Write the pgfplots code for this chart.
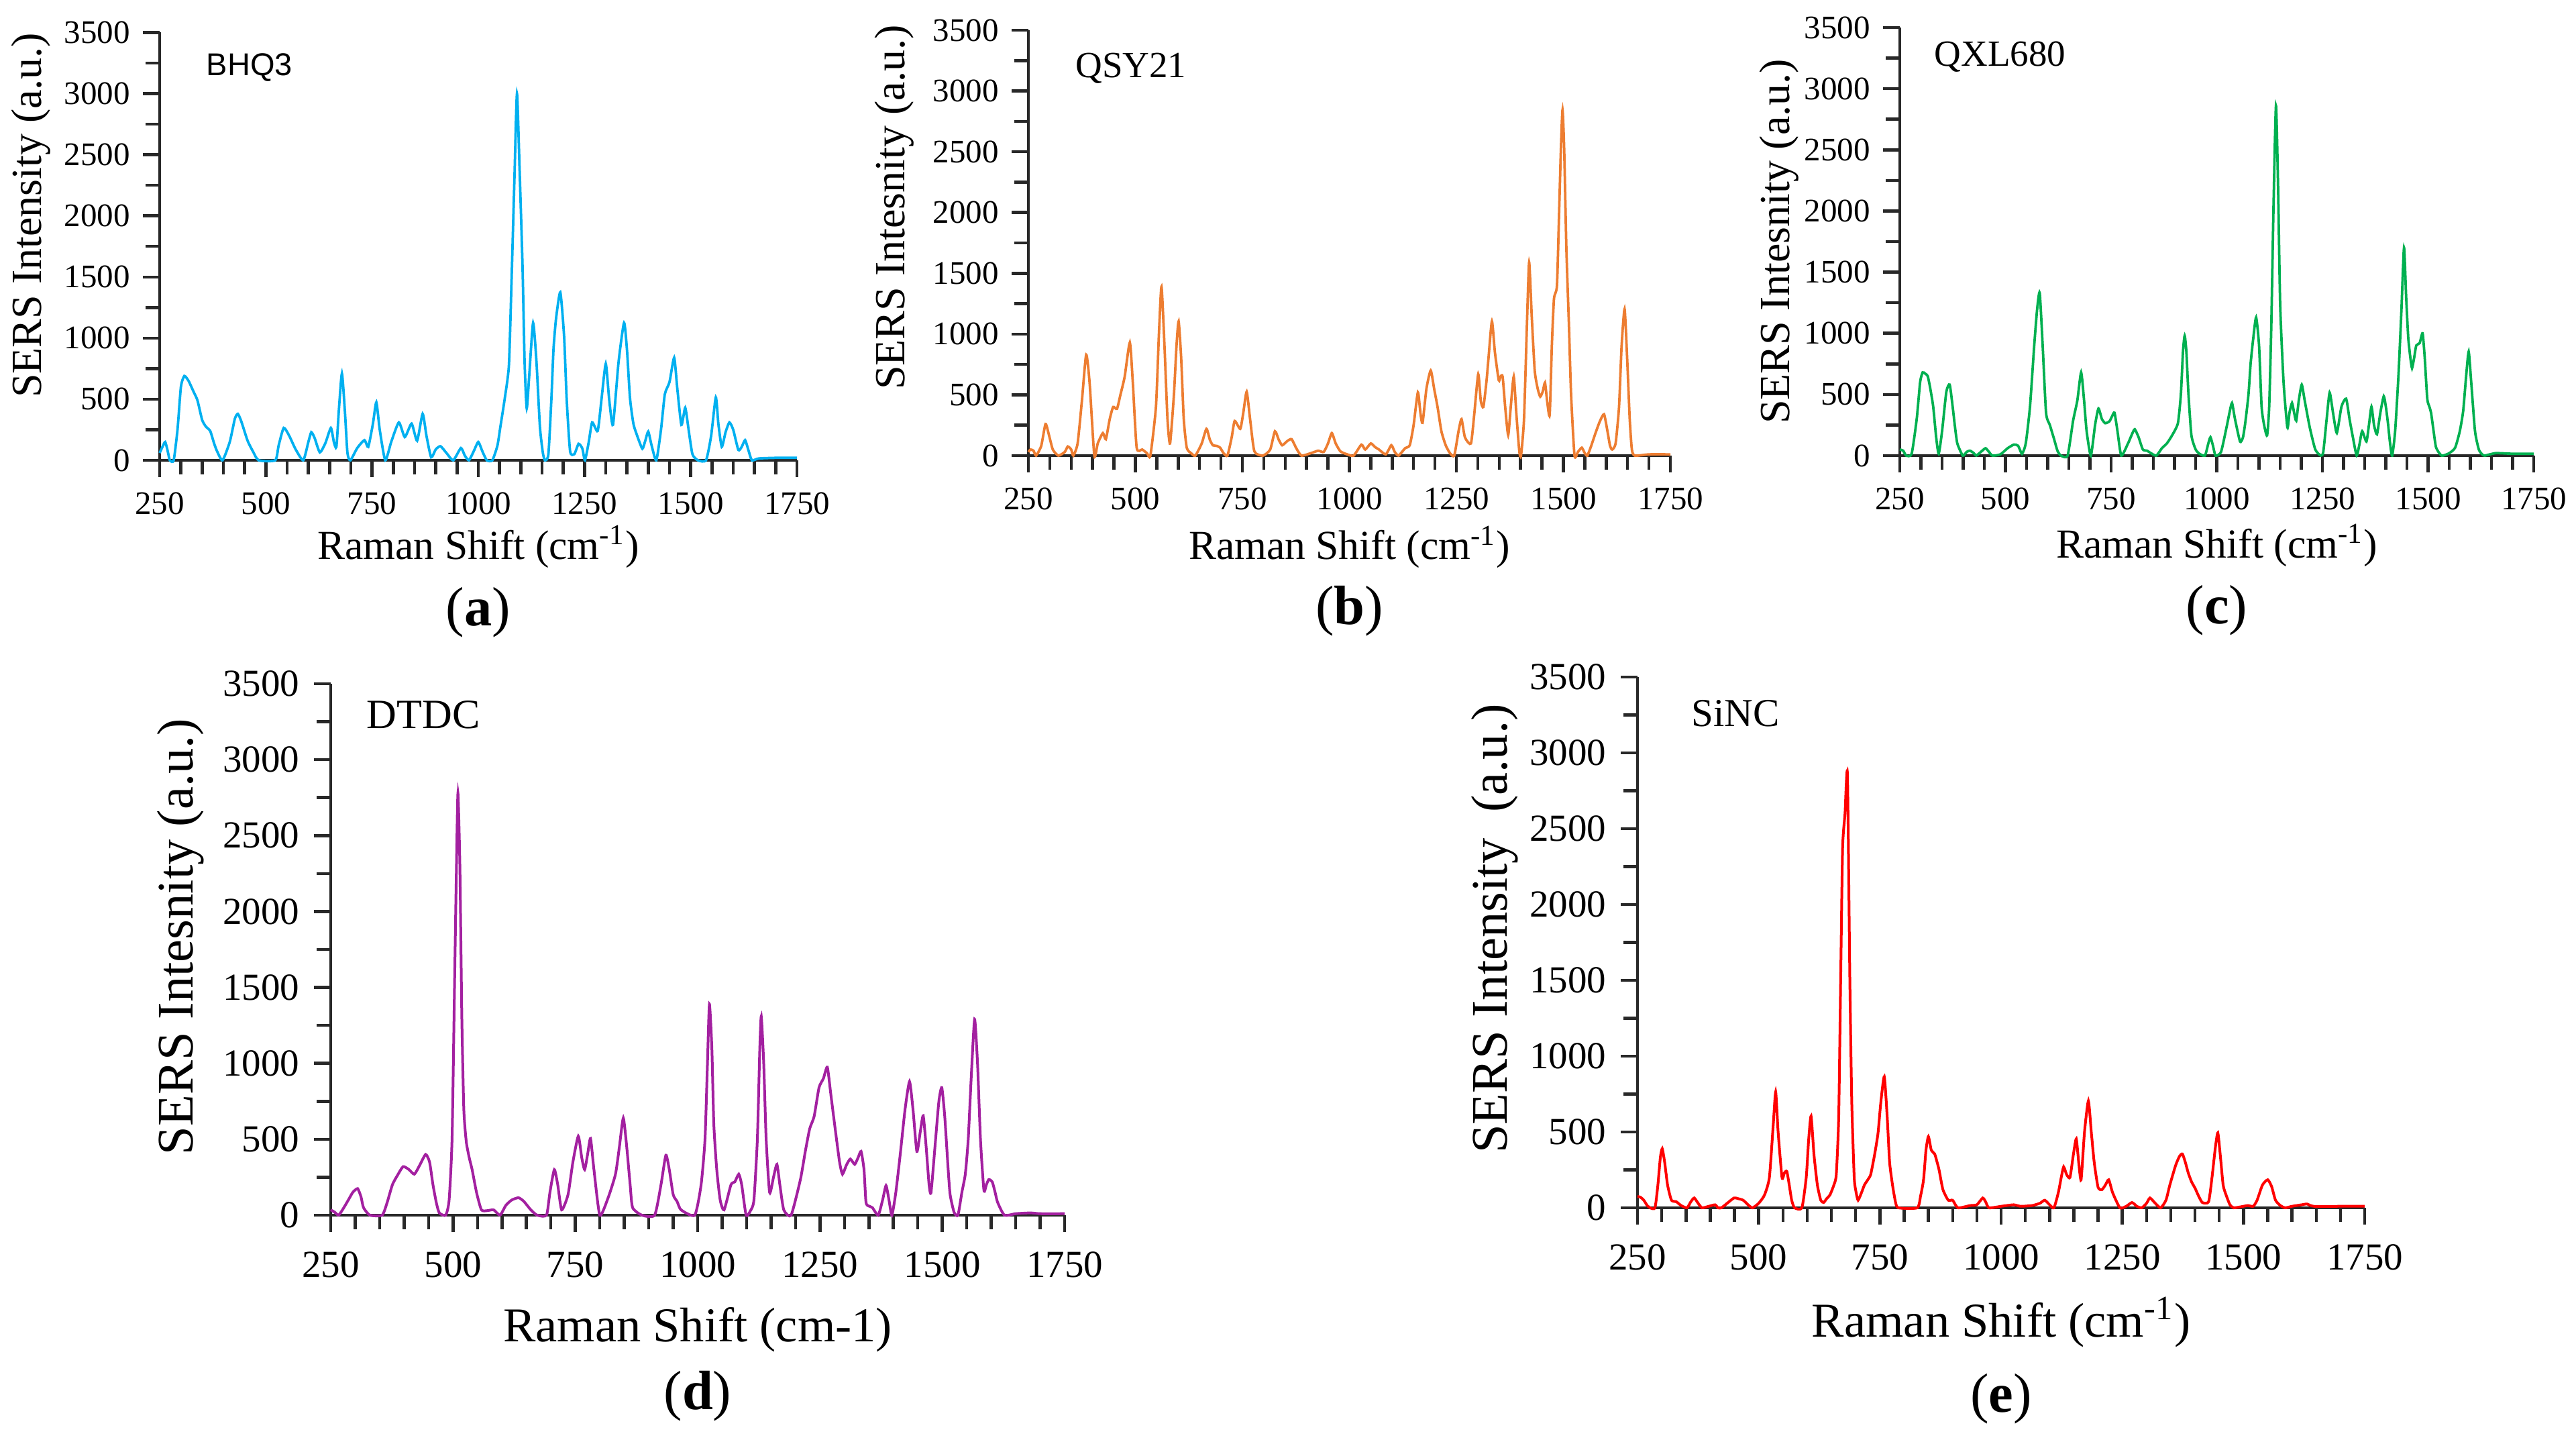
\documentclass[border=0pt]{standalone}
\usepackage{fontspec}
\setmainfont{Liberation Serif}
\newfontfamily\arialfont{Liberation Sans}
\usepackage{pgfplots}
\pgfplotsset{compat=1.18}
\usepackage{pgfplotstable}

\definecolor{cA}{RGB}{0,176,240}
\definecolor{cB}{RGB}{237,125,49}
\definecolor{cC}{RGB}{0,176,80}
\definecolor{cD}{RGB}{163,32,160}
\definecolor{cE}{RGB}{255,0,0}
\definecolor{axgray}{RGB}{40,40,40}

\pgfplotstableread{
x y
250 60
258 120
263 150
268 90
274 0
283 0
292 250
300 600
308 690
318 650
330 560
339 490
350 330
359 275
369 240
378 140
385 75
398 0
415 150
427 340
434 380
442 320
457 160
470 70
483 0
522 0
530 120
542 265
555 200
570 90
588 0
600 150
607 230
615 180
627 65
640 140
653 265
660 150
666 110
672 420
679 710
686 400
692 60
699 0
715 100
732 165
741 110
752 300
760 475
768 250
781 0
795 150
813 310
827 190
843 300
856 160
869 380
878 200
889 25
900 90
911 115
925 60
941 0
959 100
968 40
978 0
990 80
1000 150
1010 70
1020 0
1033 0
1045 120
1052 275
1062 500
1072 775
1078 1440
1085 2300
1091 3000
1097 2400
1104 1600
1109 800
1114 425
1120 700
1129 1125
1137 800
1145 275
1152 60
1157 0
1165 50
1172 500
1177 910
1183 1160
1193 1375
1202 1010
1208 500
1216 75
1226 50
1236 135
1245 95
1251 0
1260 150
1268 310
1281 240
1290 500
1300 790
1308 500
1317 290
1330 800
1343 1125
1350 900
1357 510
1365 300
1373 210
1386 95
1393 160
1400 235
1408 120
1419 0
1430 250
1439 540
1450 640
1461 840
1468 600
1478 290
1487 430
1495 250
1504 50
1517 0
1536 0
1548 200
1559 515
1565 300
1573 110
1582 230
1591 310
1600 250
1612 85
1620 110
1628 165
1636 80
1644 0
1660 15
1700 20
1750 20
}\dataA

\pgfplotstableread{
x y
250 30
255 50
262 40
268 0
280 80
290 260
298 170
307 50
320 0
335 30
342 75
350 50
355 0
365 100
375 450
385 830
393 600
404 0
412 100
424 185
431 135
440 300
448 400
457 385
465 500
475 650
487 930
494 600
503 65
516 50
527 20
535 0
548 400
555 1000
561 1390
568 900
575 300
581 100
590 500
596 900
601 1105
607 800
613 300
620 65
630 20
640 0
655 100
666 220
674 130
681 85
690 80
698 65
706 20
715 0
725 150
732 285
745 220
752 350
760 525
768 300
778 35
798 0
815 50
826 200
835 130
843 85
855 120
865 135
876 60
888 0
910 20
927 40
940 30
950 100
959 185
968 100
979 35
995 10
1010 0
1028 90
1037 50
1050 100
1060 70
1069 50
1085 10
1098 85
1106 30
1115 0
1130 60
1141 85
1150 250
1160 520
1166 350
1171 270
1180 550
1190 700
1198 550
1206 400
1215 200
1225 85
1235 20
1245 0
1255 200
1262 300
1270 150
1284 100
1292 350
1301 670
1307 450
1313 400
1320 600
1325 800
1333 1105
1340 850
1349 620
1353 650
1358 650
1364 400
1371 170
1377 400
1384 650
1390 350
1397 35
1401 0
1408 300
1415 1100
1420 1590
1426 1150
1433 700
1440 550
1446 485
1452 530
1457 600
1462 450
1468 335
1473 900
1478 1290
1485 1400
1490 2000
1494 2500
1498 2845
1502 2500
1507 1700
1513 1070
1518 500
1526 0
1534 30
1543 65
1550 20
1556 0
1565 80
1575 185
1585 280
1595 340
1603 200
1609 80
1614 50
1622 100
1630 400
1636 900
1643 1205
1649 800
1655 300
1660 50
1667 0
1700 10
1750 10
}\dataB

\pgfplotstableread{
x y
250 50
258 40
265 0
278 15
290 300
298 600
304 680
310 670
316 650
322 550
329 400
336 150
342 15
350 200
360 520
368 580
375 400
380 250
386 100
399 0
408 30
416 40
425 20
431 0
445 40
453 60
461 30
469 0
488 10
505 60
520 90
530 80
539 15
548 100
558 400
568 900
575 1200
581 1330
588 900
596 350
605 250
615 135
623 40
631 0
647 0
660 285
670 450
679 680
686 450
692 200
702 0
712 250
720 385
728 300
736 265
746 280
752 320
758 350
765 200
774 0
790 100
800 180
806 215
815 150
825 50
835 40
844 20
857 0
870 60
882 100
895 170
908 265
915 500
920 850
924 980
928 850
933 500
940 165
950 50
959 15
972 0
980 100
985 150
991 80
997 0
1010 30
1023 230
1030 350
1036 430
1043 300
1055 115
1062 150
1068 285
1075 500
1080 750
1086 950
1093 1130
1100 900
1106 400
1112 250
1119 165
1124 400
1129 1065
1134 2000
1140 2860
1145 2200
1150 1230
1158 600
1167 230
1172 350
1178 430
1183 350
1188 285
1194 450
1201 580
1208 450
1220 230
1233 50
1246 0
1252 30
1260 300
1267 515
1275 350
1284 185
1295 400
1306 465
1314 300
1322 150
1331 0
1338 100
1344 200
1354 115
1360 250
1366 400
1372 250
1379 175
1387 350
1395 485
1400 400
1405 265
1410 100
1415 0
1422 200
1430 665
1437 1200
1443 1700
1448 1300
1453 965
1458 800
1462 715
1467 800
1472 900
1480 920
1487 1000
1492 800
1498 465
1503 400
1507 350
1513 200
1519 65
1532 0
1550 20
1564 65
1575 200
1583 365
1590 650
1596 850
1602 600
1611 200
1620 50
1628 10
1634 0
1660 20
1700 15
1750 15
}\dataC

\pgfplotstableread{
x y
250 35
258 20
266 0
275 40
286 100
295 150
305 175
312 120
317 50
330 0
355 0
365 80
376 200
386 260
398 320
410 300
421 270
432 330
444 400
452 350
459 200
466 80
472 15
485 0
492 100
498 500
503 1500
507 2300
510 2780
514 2300
518 1300
522 700
527 485
533 380
539 300
548 150
558 35
570 30
583 35
596 0
608 65
620 100
634 115
645 90
659 35
672 0
691 0
698 150
707 300
714 200
722 35
735 135
745 350
756 520
763 380
769 300
775 400
781 505
788 300
800 0
817 115
832 270
840 450
848 640
855 450
862 200
867 50
886 0
912 0
925 200
935 395
942 300
950 135
958 90
966 35
994 0
1007 200
1015 500
1020 1000
1024 1390
1029 1100
1033 600
1039 300
1046 100
1054 35
1068 200
1076 220
1084 270
1090 200
1099 0
1108 30
1115 100
1122 500
1127 1100
1130 1310
1135 1000
1140 500
1147 150
1155 250
1162 335
1168 200
1176 35
1191 0
1210 235
1220 420
1229 570
1238 650
1248 840
1257 900
1265 975
1272 800
1281 570
1290 350
1296 270
1304 330
1312 370
1321 335
1328 380
1334 420
1340 300
1344 85
1350 60
1357 50
1369 0
1378 100
1385 195
1391 100
1397 0
1405 150
1414 400
1424 700
1433 880
1440 700
1448 420
1455 550
1461 655
1467 450
1473 200
1477 150
1485 450
1493 750
1499 840
1505 650
1512 300
1516 135
1524 20
1532 0
1540 150
1547 270
1553 500
1559 900
1566 1290
1572 1000
1578 500
1585 165
1590 200
1595 235
1602 220
1608 150
1613 85
1627 0
1650 10
1680 15
1700 10
1750 10
}\dataD

\pgfplotstableread{
x y
250 75
256 70
263 50
270 15
276 0
286 0
292 150
297 330
301 390
306 300
312 150
320 50
330 40
340 15
352 0
360 40
367 65
375 30
383 0
397 10
410 20
416 0
423 0
435 30
449 65
458 60
468 50
478 20
487 0
500 30
512 85
522 200
530 550
535 765
540 500
548 200
553 230
558 240
563 150
568 50
574 0
589 0
598 200
603 450
608 605
614 350
621 150
628 50
634 35
640 60
647 85
655 150
660 220
665 600
669 1500
673 2370
678 2600
683 2860
688 1500
692 690
697 200
701 100
705 50
712 100
718 150
725 185
731 220
739 350
746 490
752 700
759 865
765 600
770 300
776 150
782 40
788 0
827 0
834 80
840 185
845 380
850 470
856 380
863 355
868 300
872 250
880 120
891 50
900 50
911 0
936 15
950 20
962 65
968 40
975 0
1000 10
1026 20
1040 10
1064 15
1080 30
1090 50
1100 20
1109 0
1118 100
1124 200
1129 270
1135 220
1142 200
1149 350
1155 455
1160 300
1165 185
1172 500
1180 705
1186 500
1192 300
1200 135
1208 120
1215 150
1222 185
1230 100
1245 0
1258 10
1270 35
1280 10
1290 0
1300 30
1307 65
1318 30
1329 0
1340 50
1348 150
1360 280
1368 340
1374 355
1380 300
1386 230
1393 170
1400 130
1407 80
1415 35
1428 40
1435 200
1442 400
1447 495
1452 350
1458 150
1464 85
1472 20
1480 0
1500 10
1509 15
1520 10
1528 50
1539 150
1550 185
1558 140
1566 50
1576 15
1586 0
1600 10
1620 20
1631 25
1645 10
1700 10
1750 10
}\dataE

\pgfplotsset{
  raman/.style={
    scale only axis, anchor=south west, clip=false,
    xmin=250, xmax=1750, ymin=0, ymax=3500,
    axis x line*=bottom, axis y line*=left,
    axis line style={-, line width=0.75pt, axgray},
    xtick={250,500,...,1750}, minor x tick num=4,
    ytick={0,500,...,3500}, minor y tick num=1,
    tick align=outside, major tick length=5pt, minor tick length=4.2pt,
    tick style={axgray, line width=0.9pt},
    minor tick style={axgray, line width=0.9pt},
    /pgf/number format/assume math mode=true,
    /pgf/number format/set thousands separator={},
    ylabel style={rotate=0, anchor=center},
    xlabel style={anchor=center},
  },
  small/.style={
    ticklabel style={font=\fontsize{9.8}{11}\selectfont},
    yticklabel style={xshift=-0.3pt},
    xticklabel style={yshift=-1pt},
    xlabel style={font=\fontsize{12.3}{14}\selectfont},
    ylabel style={font=\fontsize{12.8}{14}\selectfont},
  },
  big/.style={
    ticklabel style={font=\fontsize{11.4}{13}\selectfont},
    yticklabel style={xshift=-0.8pt},
    xticklabel style={yshift=-2.4pt},
    xlabel style={font=\fontsize{14.5}{17}\selectfont},
    ylabel style={font=\fontsize{15.3}{17}\selectfont},
  },
}

\newcommand{\panel}[1]{{\fontsize{16.5}{18}\selectfont(\textbf{#1})}}

\begin{document}
\begin{tikzpicture}
\path[use as bounding box] (0,0) rectangle (768pt,430.4pt);

% (a)
\begin{axis}[raman, small, at={(47.6pt,293.2pt)}, width=190pt, height=127.5pt,
  ylabel={SERS Intensity (a.u.)}, xlabel={Raman Shift (cm\textsuperscript{-1})},
  ylabel style={at={(axis description cs:-0.202,0.573)}},
  xlabel style={at={(axis description cs:0.5,-0.202)}}]
\addplot[cA, line width=0.75pt, smooth, tension=0.35] table[x=x,y=y] {\dataA};
\node[anchor=west, font=\arialfont\fontsize{9.4}{11}\selectfont] at (axis description cs:0.055,0.919) {BHQ3};
\node at (axis description cs:0.5,-0.355) {\panel{a}};
\end{axis}

% (b)
\begin{axis}[raman, small, at={(306.6pt,294.6pt)}, width=191.4pt, height=126.8pt,
  ylabel={SERS Intesnity (a.u.)}, xlabel={Raman Shift (cm\textsuperscript{-1})},
  ylabel style={at={(axis description cs:-0.209,0.584)}},
  xlabel style={at={(axis description cs:0.5,-0.215)}}]
\addplot[cB, line width=0.75pt, smooth, tension=0.35] table[x=x,y=y] {\dataB};
\node[anchor=west, font=\fontsize{11}{13}\selectfont] at (axis description cs:0.055,0.91) {QSY21};
\node at (axis description cs:0.5,-0.365) {\panel{b}};
\end{axis}

% (c)
\begin{axis}[raman, small, at={(566.4pt,294.6pt)}, width=189pt, height=127.6pt,
  ylabel={SERS Intesnity (a.u.)}, xlabel={Raman Shift (cm\textsuperscript{-1})},
  ylabel style={at={(axis description cs:-0.19,0.5)}},
  xlabel style={at={(axis description cs:0.5,-0.21)}}]
\addplot[cC, line width=0.75pt, smooth, tension=0.35] table[x=x,y=y] {\dataC};
\node[anchor=west, font=\fontsize{11}{13}\selectfont] at (axis description cs:0.036,0.931) {QXL680};
\node at (axis description cs:0.5,-0.362) {\panel{c}};
\end{axis}

% (d)
\begin{axis}[raman, big, at={(98.6pt,68.2pt)}, width=218.8pt, height=158.4pt,
  ylabel={SERS Intesnity (a.u.)}, xlabel={Raman Shift (cm-1)},
  ylabel style={at={(axis description cs:-0.205,0.524)}},
  xlabel style={at={(axis description cs:0.5,-0.216)}}]
\addplot[cD, line width=0.8pt, smooth, tension=0.35] table[x=x,y=y] {\dataD};
\node[anchor=west, font=\fontsize{12.4}{14}\selectfont] at (axis description cs:0.033,0.941) {DTDC};
\node at (axis description cs:0.5,-0.34) {\panel{d}};
\end{axis}

% (e)
\begin{axis}[raman, big, at={(488.2pt,70.4pt)}, width=216.8pt, height=158.2pt,
  ylabel={SERS Intensity~~(a.u.)}, xlabel={Raman Shift (cm\textsuperscript{-1})},
  ylabel style={at={(axis description cs:-0.196,0.526)}},
  xlabel style={at={(axis description cs:0.5,-0.216)}}]
\addplot[cE, line width=0.8pt, smooth, tension=0.35] table[x=x,y=y] {\dataE};
\node[anchor=west, font=\fontsize{11.8}{14}\selectfont] at (axis description cs:0.058,0.932) {SiNC};
\node at (axis description cs:0.5,-0.36) {\panel{e}};
\end{axis}
\end{tikzpicture}
\end{document}
